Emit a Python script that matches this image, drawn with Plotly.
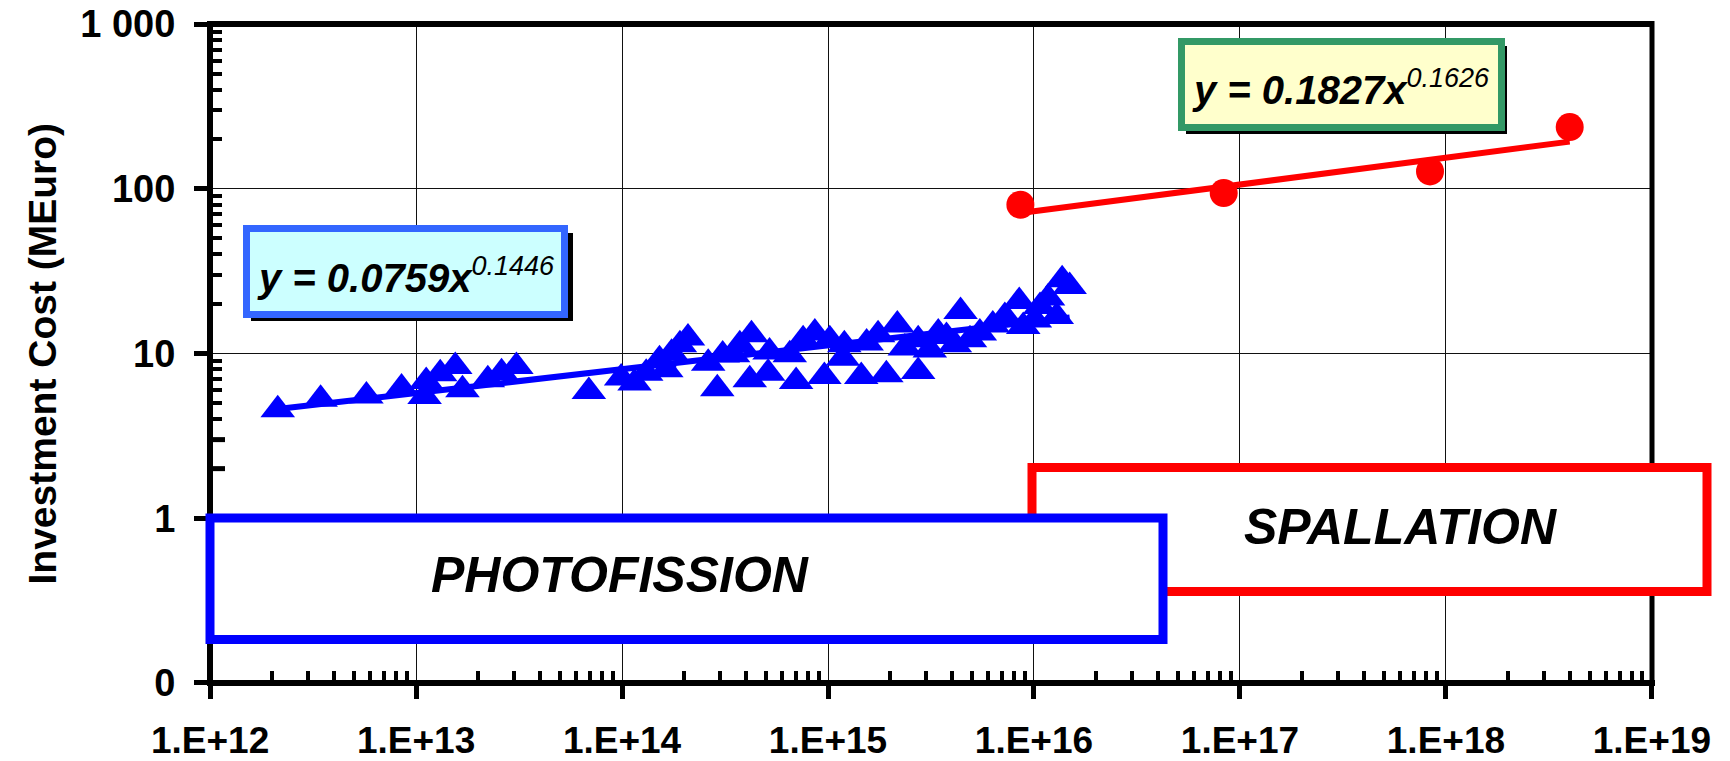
import numpy as np
import plotly.graph_objects as go

# ---------------- data ----------------
photo_x = [2.13e12, 3.44e12, 5.74e12, 8.5e12, 1.10e13, 1.12e13, 1.31e13, 1.55e13, 1.68e13, 2.23e13, 2.60e13, 3.07e13,
           6.9e13, 9.9e13, 1.15e14, 1.31e14, 1.52e14, 1.64e14, 1.74e14, 1.91e14, 2.09e14, 2.62e14, 2.90e14, 3.08e14,
           3.46e14, 3.73e14, 4.17e14, 4.25e14, 5.12e14, 5.2e14, 6.52e14, 7.0e14, 7.57e14, 8.63e14, 9.6e14, 1.02e15,
           1.18e15, 1.2e15, 1.45e15, 1.54e15, 1.75e15, 1.92e15, 2.17e15, 2.36e15, 2.74e15, 2.74e15, 3.12e15, 3.43e15,
           3.76e15, 4.13e15, 4.4e15, 4.89e15, 5.46e15, 6.31e15, 7.22e15, 8.48e15, 8.87e15, 1.01e16, 1.07e16, 1.17e16,
           1.29e16, 1.37e16, 1.49e16]
photo_y = [4.55, 5.28, 5.53, 6.17, 5.48, 6.76, 7.53, 8.34, 6.03, 6.94, 7.64, 8.34,
           5.88, 7.09, 6.61, 7.6, 9.16, 7.96, 10.05, 11.3, 12.4, 8.74, 6.1, 9.78,
           9.82, 11.3, 6.92, 13.0, 7.6, 10.2, 9.82, 6.76, 12.1, 13.3, 7.25, 12.1,
           9.37, 11.3, 7.25, 11.6, 13.0, 7.43, 14.9, 10.8, 7.78, 12.1, 10.5, 13.3,
           12.7, 11.3, 18.0, 12.1, 13.3, 14.9, 16.8, 20.7, 14.6, 16.0, 19.3, 21.7,
           16.8, 28.0, 25.5]

spall_x = [8.59e15, 8.34e16, 8.37e17, 3.99e18]
spall_y = [80.0, 94.2, 127.4, 237.0]

# power-law trendline coefficients shown on the chart: y = a * x^b
photo_fit = (0.0759, 0.1446)
spall_fit = (0.1827, 0.1626)

x_tickvals = [1e12, 1e13, 1e14, 1e15, 1e16, 1e17, 1e18, 1e19]
x_ticktext = ["1.E+12", "1.E+13", "1.E+14", "1.E+15", "1.E+16", "1.E+17", "1.E+18", "1.E+19"]
y_tickvals = [0.1, 1, 10, 100, 1000]
y_ticktext = ["0", "1", "10", "100", "1 000"]

photo_eq = ("y = 0.0759x", "0.1446")
spall_eq = ("y = 0.1827x", "0.1626")
photo_label = "PHOTOFISSION"
spall_label = "SPALLATION"
y_title = "Investment Cost (MEuro)"

# ---------------- layout geometry (screen pixels) ----------------
W, H = 1730, 761
OFF = 8                       # page body margin
PL, PT, PW, PH = 210, 24, 1442, 659   # plot area on screen
FONT = "Liberation Sans, Arial, sans-serif"
EPS = 0.0005


def px(X):
    return (X - PL) / PW


def py(Y):
    return (PT + PH - Y) / PH


def trend(xs, fit):
    a, b = fit
    xe = np.array([min(xs), max(xs)])
    return xe, a * xe ** b


fig = go.Figure()

tx, ty = trend(photo_x, photo_fit)
fig.add_trace(go.Scatter(x=photo_x, y=photo_y, mode="markers",
                         marker=dict(symbol="triangle-up", size=30, color="#0000FF"),
                         showlegend=False, cliponaxis=False))
fig.add_trace(go.Scatter(x=tx, y=ty, mode="lines", line=dict(color="#0000FF", width=6),
                         showlegend=False))

sx, sy = trend(spall_x, spall_fit)
fig.add_trace(go.Scatter(x=spall_x, y=spall_y, mode="markers",
                         marker=dict(symbol="circle", size=28, color="#FF0000"),
                         showlegend=False, cliponaxis=False))
fig.add_trace(go.Scatter(x=sx, y=sy, mode="lines", line=dict(color="#FF0000", width=6),
                         showlegend=False))

minor_x = [k * v for v in x_tickvals[:-1] for k in range(2, 10)]
minor_y = [k * v for v in y_tickvals[:-1] for k in range(2, 10)]

fig.update_xaxes(type="log", range=[12 - EPS, 19 + EPS], tickmode="array", tickvals=x_tickvals,
                 ticktext=x_ticktext, ticklabeloverflow="allow",
                 ticks="outside", ticklen=15, tickwidth=5, tickcolor="black",
                 showgrid=True, gridcolor="#111111", gridwidth=1, showline=False, zeroline=False,
                 tickfont=dict(family=FONT, size=37, color="black", weight="bold"),
                 ticklabelstandoff=10,
                 minor=dict(tickmode="array", tickvals=minor_x, ticks="inside", ticklen=12,
                            tickwidth=4, tickcolor="black", showgrid=False))
fig.update_yaxes(type="log", range=[-1 - EPS, 3 + EPS], tickmode="array", tickvals=y_tickvals,
                 ticktext=y_ticktext, ticklabeloverflow="allow",
                 ticks="outside", ticklen=15, tickwidth=5, tickcolor="black",
                 showgrid=True, gridcolor="#111111", gridwidth=1, showline=False, zeroline=False,
                 tickfont=dict(family=FONT, size=38, color="black", weight="bold"),
                 ticklabelstandoff=11,
                 minor=dict(tickmode="array", tickvals=minor_y, ticks="inside", ticklen=12,
                            tickwidth=4, tickcolor="black", showgrid=False))

shapes = []
# frame / axis lines
shapes.append(dict(type="line", xref="paper", yref="paper", x0=0, x1=0, y0=py(PT + PH + 3), y1=py(PT - 3),
                   line=dict(color="black", width=6), layer="above"))
shapes.append(dict(type="line", xref="paper", yref="paper", x0=px(PL - 3), x1=px(PL + PW + 3), y0=0, y1=0,
                   line=dict(color="black", width=6), layer="above"))
shapes.append(dict(type="line", xref="paper", yref="paper", x0=px(PL - 3), x1=px(PL + PW + 2), y0=1, y1=1,
                   line=dict(color="black", width=6), layer="above"))
shapes.append(dict(type="line", xref="paper", yref="paper", x0=1, x1=1, y0=0, y1=py(PT - 3),
                   line=dict(color="black", width=5), layer="above"))
# inner half of the crossing major ticks
for v in x_tickvals:
    shapes.append(dict(type="line", xref="x", yref="paper", x0=np.log10(v), x1=np.log10(v),
                       ysizemode="pixel", yanchor=0, y0=0, y1=15,
                       line=dict(color="black", width=5), layer="above"))
for v in y_tickvals:
    shapes.append(dict(type="line", xref="paper", yref="y", y0=np.log10(v), y1=np.log10(v),
                       xsizemode="pixel", xanchor=0, x0=0, x1=15,
                       line=dict(color="black", width=5), layer="above"))


def rect(x0, y0, x1, y1, line_color, lw, fill):
    return dict(type="rect", xref="paper", yref="paper", x0=px(x0), x1=px(x1), y0=py(y1), y1=py(y0),
                line=dict(color=line_color, width=lw) if lw else dict(width=0),
                fillcolor=fill, layer="above")


# region boxes (spallation below photofission)
shapes.append(rect(1032, 467.5, 1707, 591.5, "#FF0000", 9, "white"))
shapes.append(rect(210, 518, 1163, 639.5, "#0000FF", 9, "white"))
# equation boxes with drop shadows
shapes.append(rect(251, 233, 573, 321, None, 0, "black"))
shapes.append(rect(246.5, 228.5, 564.5, 314.5, "#3366FF", 7, "#CCFFFF"))
shapes.append(rect(1186, 46, 1507, 134, None, 0, "black"))
shapes.append(rect(1181.5, 41.5, 1501.5, 127.5, "#339966", 7, "#FFFFCC"))


def eq_text(main, sup):
    return ("<b><i>%s</i></b><sup><i><span style='font-size:27px'>%s</span></i></sup>" % (main, sup))


annotations = [
    dict(text=eq_text(*photo_eq), xref="paper", yref="paper", x=px(405.5), y=py(275), showarrow=False,
         xanchor="center", yanchor="middle", font=dict(family=FONT, size=40, color="black")),
    dict(text=eq_text(*spall_eq), xref="paper", yref="paper", x=px(1341), y=py(87), showarrow=False,
         xanchor="center", yanchor="middle", font=dict(family=FONT, size=40, color="black")),
    dict(text="<b><i>%s</i></b>" % photo_label, xref="paper", yref="paper", x=px(620), y=py(575),
         showarrow=False, xanchor="center", yanchor="middle", font=dict(family=FONT, size=50, color="black")),
    dict(text="<b><i>%s</i></b>" % spall_label, xref="paper", yref="paper", x=px(1400), y=py(527),
         showarrow=False, xanchor="center", yanchor="middle", font=dict(family=FONT, size=50, color="black")),
    dict(text="<b>%s</b>" % y_title, xref="paper", yref="paper", x=px(42), y=0.5, textangle=-90,
         showarrow=False, xanchor="center", yanchor="middle", font=dict(family=FONT, size=39, color="black")),
]

fig.update_layout(width=W, height=H,
                  margin=dict(l=PL - OFF, r=W - (PL - OFF) - PW, t=PT - OFF, b=H - (PT - OFF) - PH,
                              autoexpand=False),
                  plot_bgcolor="white", paper_bgcolor="white", showlegend=False,
                  shapes=shapes, annotations=annotations)

fig.write_html("out.html")
